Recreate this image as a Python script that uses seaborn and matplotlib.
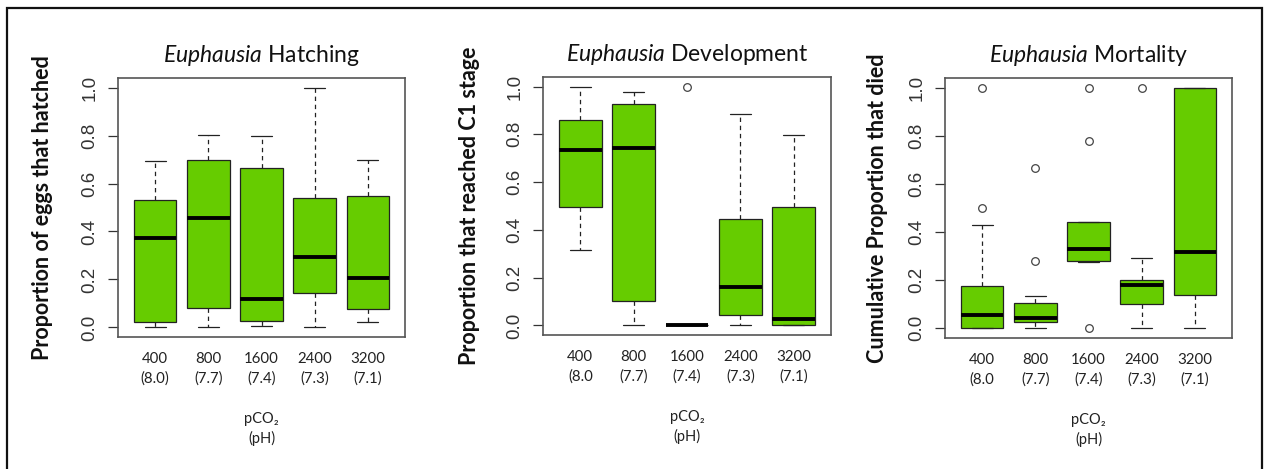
import numpy as np
import pandas as pd
import matplotlib
matplotlib.use("Agg")
import matplotlib.pyplot as plt
from matplotlib.patches import Rectangle
import seaborn as sns

# treatments: pCO2 (pH)
groups = ["400", "800", "1600", "2400", "3200"]
# tick labels as printed on each panel (panels 2 and 3 lack the closing paren)
tick_labels = [
    ["400\n(8.0)", "800\n(7.7)", "1600\n(7.4)", "2400\n(7.3)", "3200\n(7.1)"],
    ["400\n(8.0", "800\n(7.7)", "1600\n(7.4)", "2400\n(7.3)", "3200\n(7.1)"],
    ["400\n(8.0", "800\n(7.7)", "1600\n(7.4)", "2400\n(7.3)", "3200\n(7.1)"],
]

# low whisker, lower hinge, median, upper hinge, high whisker
hatch_stats = [[0.00, 0.024, 0.372, 0.530, 0.693],
               [0.00, 0.080, 0.456, 0.700, 0.803],
               [0.007, 0.028, 0.117, 0.664, 0.799],
               [0.00, 0.144, 0.293, 0.538, 1.000],
               [0.024, 0.075, 0.206, 0.548, 0.700]]
hatch_out = [[], [], [], [], []]

dev_stats = [[0.317, 0.497, 0.735, 0.860, 1.000],
             [0.00, 0.102, 0.744, 0.929, 0.978],
             [0.00, 0.00, 0.00, 0.00, 0.00],
             [0.00, 0.042, 0.159, 0.446, 0.884],
             [0.00, 0.00, 0.027, 0.497, 0.799]]
dev_out = [[], [], [1.0], [], []]

mort_stats = [[0.00, 0.00, 0.054, 0.175, 0.431],
              [0.00, 0.026, 0.044, 0.107, 0.135],
              [0.274, 0.278, 0.328, 0.440, 0.440],
              [0.00, 0.101, 0.181, 0.200, 0.292],
              [0.00, 0.139, 0.318, 1.000, 1.000]]
mort_out = [[0.5, 1.0], [0.278, 0.667], [0.0, 0.778, 1.0], [1.0], []]

titles = ["Hatching", "Development", "Mortality"]
ylabels = ["Proportion of eggs that hatched",
           "Proportion that reached C1 stage",
           "Cumulative Proportion that died"]


def expand(stats, outliers):
    # long table whose hinges / median / whisker ends equal the summary values
    rows = []
    for g, s, o in zip(groups, stats, outliers):
        lo, q1, med, q3, hi = s
        vals = list(o) + [lo] + [q1] * 20 + [med] * 20 + [q3] * 20 + [hi]
        rows += [(g, v) for v in vals]
    return pd.DataFrame(rows, columns=["grp", "val"])


sns.set_style("white")
plt.rcParams["font.family"] = ["Lato", "DejaVu Sans"]
plt.rcParams["mathtext.fontset"] = "custom"
plt.rcParams["mathtext.rm"] = "Lato"
plt.rcParams["mathtext.it"] = "Lato:italic"

W, H = 1266, 469
fig = plt.figure(figsize=(W / 100, H / 100), dpi=100)

# axes boxes in pixels: left, right, top, bottom
boxes = [(118, 405, 78, 337), (543, 831, 77, 335), (945, 1232, 78, 338)]
ylab_x = [43, 469, 878]
green = "#66CC00"

frames = [expand(hatch_stats, hatch_out), expand(dev_stats, dev_out),
          expand(mort_stats, mort_out)]

for i, df in enumerate(frames):
    l, r, t, b = boxes[i]
    ax = fig.add_axes([l / W, 1 - b / H, (r - l) / W, (b - t) / H])
    sns.boxplot(data=df, x="grp", y="val", order=groups, ax=ax,
                color=green, saturation=1, width=0.8,
                linecolor="#222222", linewidth=0.9,
                whiskerprops=dict(linestyle=(0, (3.5, 3))),
                medianprops=dict(color="black", linewidth=2.8),
                flierprops=dict(marker="o", markersize=5.5,
                                markerfacecolor="none",
                                markeredgecolor="#444444",
                                markeredgewidth=0.9))
    ax.set_xlim(-0.7, 4.7)
    ax.set_ylim(-0.04, 1.04)
    ax.set_xlabel("")
    ax.set_ylabel("")
    for sp in ax.spines.values():
        sp.set_visible(True)
        sp.set_color("#555555")
        sp.set_linewidth(1.2)

    ax.set_yticks([0, 0.2, 0.4, 0.6, 0.8, 1.0])
    ax.set_yticklabels(["0.0", "0.2", "0.4", "0.6", "0.8", "1.0"])
    ax.tick_params(axis="y", left=True, length=7, width=0.9, color="#333333",
                   direction="out", pad=7, labelsize=13.5, labelrotation=90,
                   labelcolor="#333333")
    for lab in ax.get_yticklabels():
        lab.set_fontfamily("Liberation Sans")
        lab.set_va("center")

    ax.set_xticks(range(len(groups)))
    ax.set_xticklabels(tick_labels[i])
    ax.tick_params(axis="x", bottom=False, length=0, pad=11, labelsize=10.8,
                   labelcolor="#222222")
    for lab in ax.get_xticklabels():
        lab.set_linespacing(1.45)

    ax.text(0.5, 1.062, r"$\mathit{Euphausia}$ " + titles[i],
            transform=ax.transAxes, ha="center", va="baseline",
            fontsize=16.5, color="#111111")

    ax.text(0.5, -0.29, "pCO\u2082\n(pH)", transform=ax.transAxes,
            ha="center", va="top", fontsize=10.5,
            linespacing=1.4, color="#222222")

    fig.text(ylab_x[i] / W, 1 - (t + b) / 2 / H, ylabels[i], rotation=90,
             ha="center", va="center", fontsize=15.5, fontweight="bold",
             color="#111111")

# outer frame
fig.add_artist(Rectangle((7 / W, -0.1), (1262 - 7) / W, 1.1 - 8 / H,
                         transform=fig.transFigure, fill=False,
                         lw=1.6, ec="#111111", clip_on=False))

fig.savefig("out.png", dpi=100)
